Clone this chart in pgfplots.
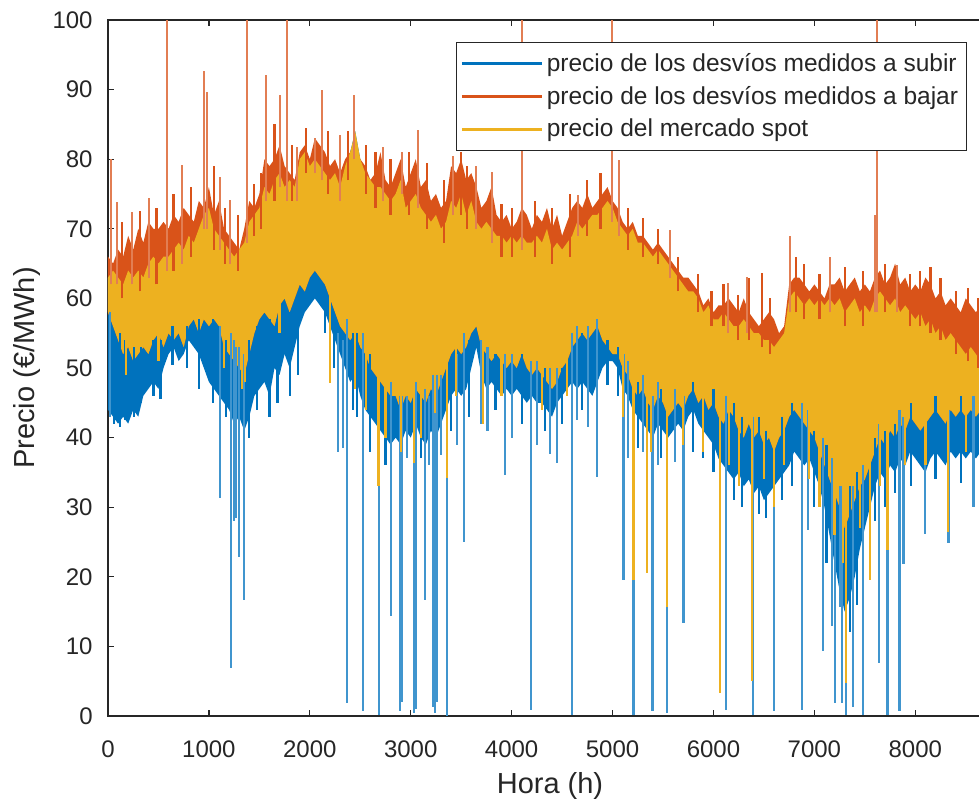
\documentclass[border=0pt]{standalone}
\usepackage{pgfplots}
\pgfplotsset{compat=1.18}
\usepackage{pgfplotstable}
\usepgfplotslibrary{fillbetween}
\usepackage{fontspec}
\setmainfont{Liberation Sans}

\definecolor{mblue}{HTML}{0072BD}
\definecolor{mred}{HTML}{D95319}
\definecolor{myellow}{HTML}{EDB120}
\definecolor{axgray}{HTML}{262626}

% hourly prices summarised every 50 h:
% rhi = upper edge of the "a bajar" series, yhi/ylo = range of the spot price,
% blo = lower edge of the "a subir" series
\pgfplotstableread{
h rhi yhi ylo blo
0 66 63 58 44
50 65 64 56 43
100 67 63 54 42
150 66 62 52 43
200 69 64 53 42
250 67 63 51 44
300 70 64 52 43
350 68 63 53 46
400 71 65 52 47
450 70 66 54 48
500 70 65 55 47
550 71 66 53 50
600 70 66 55 52
650 72 67 54 53
700 71 68 55 51
750 73 67 53 52
800 72 69 56 54
850 71 68 57 53
900 74 70 55 52
950 73 72 57 50
1000 76 73 56 48
1050 72 70 57 47
1100 74 69 56 46
1150 70 68 53 45
1200 69 67 52 44
1250 68 66 51 42
1300 67 67 50 43
1350 70 68 49 41
1400 74 71 52 43
1450 73 72 55 46
1500 75 73 57 47
1550 80 76 58 48
1600 79 75 57 46
1650 80 77 56 50
1700 82 78 59 49
1750 79 76 60 52
1800 78 77 58 50
1850 77 76 60 53
1900 81 80 62 56
1950 82 81 61 58
2000 80 79 63 59
2050 83 80 64 60
2100 82 79 63 59
2150 81 78 62 58
2200 79 77 60 56
2250 80 78 58 54
2300 78 76 56 52
2350 80 79 55 50
2400 81 81 54 48
2450 83 84 55 49
2500 80 80 53 46
2550 79 78 52 44
2600 77 77 50 43
2650 78 76 49 42
2700 81 76 48 41
2750 77 75 47 40
2800 76 74 46 39
2850 78 75 46 40
2900 80 77 44 39
2950 76 73 46 41
3000 78 74 45 40
3050 80 75 47 42
3100 76 73 46 40
3150 77 72 45 39
3200 74 71 47 41
3250 75 72 46 40
3300 73 70 48 42
3350 74 71 50 44
3400 79 74 52 46
3450 78 73 53 47
3500 80 75 52 46
3550 77 72 53 47
3600 78 74 55 50
3650 76 71 56 53
3700 73 70 53 49
3750 74 71 52 47
3800 76 70 51 48
3850 72 69 52 47
3900 71 69 51 46
3950 72 68 50 47
4000 70 69 51 46
4050 71 68 50 47
4100 73 69 52 46
4150 72 68 50 45
4200 70 68 49 46
4250 72 69 50 45
4300 71 68 49 45
4350 73 70 48 44
4400 70 67 47 43
4450 72 68 48 45
4500 69 67 50 46
4550 71 68 51 47
4600 73 69 53 48
4650 74 71 54 47
4700 73 70 55 48
4750 75 71 54 47
4800 73 72 55 46
4850 74 72 56 48
4900 75 73 54 50
4950 76 74 53 51
5000 74 73 52 51
5050 73 71 52 50
5100 71 70 50 47
5150 70 69 49 46
5200 71 70 47 44
5250 69 68 46 43
5300 69 68 47 42
5350 68 67 45 41
5400 67 66 44 40
5450 68 67 46 42
5500 67 66 45 41
5550 66 65 43 40
5600 65 64 44 41
5650 64 63 45 42
5700 63 62 44 41
5750 63 61 46 43
5800 62 61 47 44
5850 61 60 45 42
5900 59 58 46 41
5950 60 59 44 40
6000 58 57 45 39
6050 59 57 43 37
6100 59 58 42 36
6150 60 57 44 35
6200 59 56 43 34
6250 58 56 41 35
6300 60 57 40 33
6350 58 56 42 34
6400 57 55 40 32
6450 56 55 41 33
6500 57 54 39 31
6550 58 54 40 32
6600 57 53 38 33
6650 55 54 40 34
6700 56 55 41 35
6750 62 60 43 36
6800 63 61 44 38
6850 63 60 43 37
6900 62 59 42 36
6950 61 60 41 37
7000 62 59 40 35
7050 61 60 38 33
7100 60 59 36 30
7150 62 60 34 26
7200 62 59 32 22
7250 63 60 30 18
7300 61 58 27 15
7350 62 59 29 17
7400 63 60 31 20
7450 61 58 33 24
7500 62 59 34 27
7550 61 58 36 30
7600 63 60 38 33
7650 64 61 40 35
7700 62 60 39 34
7750 63 59 41 36
7800 65 60 40 35
7850 62 58 42 37
7900 63 59 41 36
7950 61 58 43 38
8000 62 57 42 37
8050 61 58 41 36
8100 63 56 42 35
8150 62 57 43 37
8200 60 55 44 38
8250 61 56 43 37
8300 59 54 42 36
8350 60 55 44 38
8400 59 54 43 37
8450 58 53 44 38
8500 60 52 43 37
8550 59 53 44 38
8600 58 52 43 37
8650 59 51 44 38
8700 58 52 43 37
8750 58 51 44 38
}\bands

\begin{document}
\begin{tikzpicture}
\begin{axis}[
  scale only axis,
  width=442pt, height=348pt,
  xmin=0, xmax=8760, ymin=0, ymax=100,
  xtick={0,1000,...,8000},
  ytick={0,10,...,100},
  tick align=inside,
  major tick length=3pt,
  axis line style={axgray, line width=0.6pt},
  every tick/.style={axgray, line width=0.6pt},
  /pgf/number format/assume math mode=true,
  /pgf/number format/1000 sep={},
  tick label style={font=\fontsize{12}{14}\selectfont, text=axgray, inner sep=0pt},
  xticklabel style={yshift=-12pt},
  yticklabel style={xshift=-7.5pt},
  xlabel={Hora (h)},
  ylabel={Precio (€/MWh)},
  label style={font=\fontsize{14.5}{17}\selectfont, text=axgray, inner sep=0pt},
  xlabel style={at={(rel axis cs:0.5,-0.1207)}, anchor=south},
  ylabel style={at={(rel axis cs:-0.0758,0.5)}, anchor=south, rotate=0},
  unbounded coords=jump,
  legend cell align=left,
  legend image code/.code={\draw[#1, line width=1.1pt] (0pt,0pt) -- (40pt,0pt);},
  legend style={
    at={(0.9717,0.9684)}, anchor=north east,
    draw=axgray, line width=0.6pt, fill=white,
    font=\fontsize{12.25}{14}\selectfont, text=axgray,
    inner xsep=2.25pt, inner ysep=2.2pt, row sep=0pt,
    nodes={inner xsep=1.9pt, inner ysep=3pt},
  },
]
\coordinate (O) at (rel axis cs:0,0);
\coordinate (T) at (rel axis cs:0,1);

% envelopes
\addplot[name path=rtop, draw=none, forget plot] table[x=h, y=rhi] {\bands};
\addplot[name path=ytop, draw=none, forget plot] table[x=h, y=yhi] {\bands};
\addplot[name path=ybot, draw=none, forget plot] table[x=h, y=ylo] {\bands};
\addplot[name path=bbot, draw=none, forget plot] table[x=h, y=blo] {\bands};

% precio de los desvios medidos a subir
\addplot[fill=mblue, draw=none, forget plot] fill between[of=ytop and bbot];
\addplot[mblue!75, line width=1.1pt, forget plot] coordinates {
(20,58) (20,43) (20,nan)
(1110,56) (1110,31.3) (1110,nan)
(1219,55) (1219,6.9) (1219,nan)
(1245,54) (1245,28) (1245,nan)
(1270,53) (1270,28.5) (1270,nan)
(1300,53) (1300,22.9) (1300,nan)
(1345,52) (1345,16.7) (1345,nan)
(2280,55) (2280,38) (2280,nan)
(2330,54) (2330,38.5) (2330,nan)
(2372,57) (2372,1.9) (2372,nan)
(2524,55) (2524,0.7) (2524,nan)
(2689,51) (2689,0.2) (2689,nan)
(2804,48) (2804,14.3) (2804,nan)
(2890,46) (2890,0.7) (2890,nan)
(2910,46) (2910,2) (2910,nan)
(2960,46) (2960,37) (2960,nan)
(3030,47) (3030,0.4) (3030,nan)
(3050,48) (3050,1) (3050,nan)
(3141,47) (3141,16.7) (3141,nan)
(3180,46) (3180,36) (3180,nan)
(3224,49) (3224,1.3) (3224,nan)
(3240,49) (3240,0.5) (3240,nan)
(3257,49) (3257,2) (3257,nan)
(3300,49) (3300,37.5) (3300,nan)
(3356,52) (3356,0) (3356,nan)
(3460,52) (3460,39) (3460,nan)
(3528,55) (3528,25) (3528,nan)
(3700,54) (3700,42) (3700,nan)
(3760,53) (3760,41) (3760,nan)
(3934,52) (3934,34.6) (3934,nan)
(4000,52) (4000,40) (4000,nan)
(4192,51) (4192,0.9) (4192,nan)
(4250,51) (4250,39) (4250,nan)
(4380,50) (4380,37.7) (4380,nan)
(4446,50) (4446,36.3) (4446,nan)
(4596,55) (4596,0.2) (4596,nan)
(4650,56) (4650,42.5) (4650,nan)
(4760,56) (4760,41.5) (4760,nan)
(4844,57) (4844,34.4) (4844,nan)
(5108,52) (5108,19.5) (5108,nan)
(5150,51) (5150,37) (5150,nan)
(5207,49) (5207,0.2) (5207,nan)
(5300,49) (5300,38) (5300,nan)
(5396,46) (5396,0.7) (5396,nan)
(5450,48) (5450,36) (5450,nan)
(5536,45) (5536,0.4) (5536,nan)
(5620,47) (5620,36.5) (5620,nan)
(5702,46) (5702,13.3) (5702,nan)
(6125,46) (6125,0.9) (6125,nan)
(6389,43) (6389,0.2) (6389,nan)
(6600,41) (6600,0.7) (6600,nan)
(6874,45) (6874,0.9) (6874,nan)
(6940,44) (6940,26.7) (6940,nan)
(7083,40) (7083,9.3) (7083,nan)
(7172,37) (7172,12.9) (7172,nan)
(7205,35) (7205,1.8) (7205,nan)
(7255,33) (7255,15.7) (7255,nan)
(7271,33) (7271,1.8) (7271,nan)
(7314,30) (7314,0.2) (7314,nan)
(7386,33) (7386,1.3) (7386,nan)
(7478,36) (7478,0.2) (7478,nan)
(7551,38) (7551,19.5) (7551,nan)
(7644,42) (7644,7.6) (7644,nan)
(7724,43) (7724,0.2) (7724,nan)
(7843,44) (7843,0.7) (7843,nan)
(7883,43) (7883,21.9) (7883,nan)
(8098,44) (8098,26.2) (8098,nan)
(8329,44) (8329,24.8) (8329,nan)
(8577,46) (8577,30.1) (8577,nan)
};
% shorter excursions of the same series
\addplot[mblue, line width=1.1pt, forget plot] coordinates {
(60,55) (60,42) (60,nan)
(120,55) (120,41.5) (120,nan)
(170,54) (170,42.5) (170,nan)
(260,53) (260,43) (260,nan)
(330,53) (330,45) (330,nan)
(450,54) (450,46) (450,nan)
(520,54) (520,45.5) (520,nan)
(640,56) (640,50.5) (640,nan)
(780,56) (780,50) (780,nan)
(900,57) (900,47) (900,nan)
(1040,57) (1040,45) (1040,nan)
(1170,54) (1170,43) (1170,nan)
(1400,54) (1400,40) (1400,nan)
(1480,56) (1480,44) (1480,nan)
(1600,57) (1600,43) (1600,nan)
(1680,57) (1680,45) (1680,nan)
(1800,58) (1800,46) (1800,nan)
(1880,60) (1880,49) (1880,nan)
(2150,60) (2150,55) (2150,nan)
(2240,58) (2240,50) (2240,nan)
(2430,55) (2430,44) (2430,nan)
(2470,55) (2470,43) (2470,nan)
(2600,52) (2600,38) (2600,nan)
(2750,48) (2750,36) (2750,nan)
(3100,47) (3100,37) (3100,nan)
(3400,51) (3400,41) (3400,nan)
(3580,54) (3580,43) (3580,nan)
(3840,52) (3840,44) (3840,nan)
(4100,52) (4100,42) (4100,nan)
(4330,50) (4330,41) (4330,nan)
(4500,50) (4500,42) (4500,nan)
(4700,55) (4700,44) (4700,nan)
(4950,54) (4950,47.5) (4950,nan)
(5050,53) (5050,46) (5050,nan)
(5250,48) (5250,38.5) (5250,nan)
(5480,47) (5480,37) (5480,nan)
(5800,48) (5800,38) (5800,nan)
(5900,47) (5900,37) (5900,nan)
(6000,47) (6000,35) (6000,nan)
(6200,45) (6200,31) (6200,nan)
(6280,43) (6280,30) (6280,nan)
(6450,43) (6450,29) (6450,nan)
(6520,41) (6520,28.5) (6520,nan)
(6680,43) (6680,31) (6680,nan)
(6780,45) (6780,33) (6780,nan)
(7000,41) (7000,30) (7000,nan)
(7120,39) (7120,22) (7120,nan)
(7350,33) (7350,12) (7350,nan)
(7420,35) (7420,16) (7420,nan)
(7600,40) (7600,28) (7600,nan)
(7700,41) (7700,30) (7700,nan)
(7800,42) (7800,32) (7800,nan)
(7960,45) (7960,33) (7960,nan)
(8200,46) (8200,34) (8200,nan)
(8450,46) (8450,33.5) (8450,nan)
(8650,46) (8650,34) (8650,nan)
};

% precio de los desvios medidos a bajar
\addplot[fill=mred, draw=none, forget plot] fill between[of=rtop and ybot];
\addplot[mred!75, line width=1.1pt, forget plot] coordinates {
(30,62) (30,80) (30,nan)
(86,62) (86,73.9) (86,nan)
(235,62) (235,72.4) (235,nan)
(410,63) (410,74.4) (410,nan)
(584,64) (584,100) (584,nan)
(730,65) (730,79.2) (730,nan)
(951,70) (951,92.6) (951,nan)
(984,70) (984,89.7) (984,nan)
(1110,67) (1110,77.5) (1110,nan)
(1209,65) (1209,74.2) (1209,nan)
(1381,68) (1381,100) (1381,nan)
(1563,74) (1563,92.1) (1563,nan)
(1705,76) (1705,89.2) (1705,nan)
(1771,74) (1771,100) (1771,nan)
(1870,74) (1870,81.8) (1870,nan)
(2051,78) (2051,83) (2051,nan)
(2118,77) (2118,90) (2118,nan)
(2299,74) (2299,83.5) (2299,nan)
(2438,80) (2438,89.2) (2438,nan)
(2726,74) (2726,81.8) (2726,nan)
(2910,75) (2910,81.1) (2910,nan)
(3075,73) (3075,84.2) (3075,nan)
(3420,72) (3420,80.4) (3420,nan)
(3644,70) (3644,79) (3644,nan)
(3802,68) (3802,78.2) (3802,nan)
(4106,67) (4106,100) (4106,nan)
(4661,69) (4661,74.9) (4661,nan)
(4992,71) (4992,100) (4992,nan)
(5067,69) (5067,79.9) (5067,nan)
(5570,63) (5570,69.8) (5570,nan)
(6147,55) (6147,62.2) (6147,nan)
(6329,55) (6329,63.1) (6329,nan)
(6759,58) (6759,68.9) (6759,nan)
(7155,58) (7155,66) (7155,nan)
(7605,58) (7605,72) (7605,nan)
(7617,58) (7617,100) (7617,nan)
(7815,58) (7815,64.8) (7815,nan)
};
\addplot[mred, line width=1.1pt, forget plot] coordinates {
(140,60) (140,71) (140,nan)
(320,61) (320,72.5) (320,nan)
(480,62) (480,73) (480,nan)
(650,64) (650,75) (650,nan)
(820,66) (820,76) (820,nan)
(1050,67) (1050,79) (1050,nan)
(1160,65) (1160,73) (1160,nan)
(1290,64) (1290,72) (1290,nan)
(1450,69) (1450,76.5) (1450,nan)
(1520,70) (1520,78) (1520,nan)
(1650,74) (1650,85) (1650,nan)
(1820,74) (1820,82) (1820,nan)
(1960,78) (1960,84.5) (1960,nan)
(2180,75) (2180,84) (2180,nan)
(2380,77) (2380,84) (2380,nan)
(2560,75) (2560,82) (2560,nan)
(2650,73) (2650,81) (2650,nan)
(2800,72) (2800,80) (2800,nan)
(2980,72) (2980,81) (2980,nan)
(3160,70) (3160,79.5) (3160,nan)
(3330,68) (3330,77) (3330,nan)
(3500,72) (3500,81) (3500,nan)
(3560,70) (3560,79) (3560,nan)
(3900,66) (3900,73.5) (3900,nan)
(4000,66) (4000,73) (4000,nan)
(4230,66) (4230,74) (4230,nan)
(4400,65) (4400,73) (4400,nan)
(4580,66) (4580,75) (4580,nan)
(4750,69) (4750,77) (4750,nan)
(4880,70) (4880,78) (4880,nan)
(5150,67) (5150,73) (5150,nan)
(5300,66) (5300,71.5) (5300,nan)
(5450,65) (5450,70) (5450,nan)
(5650,61) (5650,66) (5650,nan)
(5850,58) (5850,63.5) (5850,nan)
(5980,56) (5980,61) (5980,nan)
(6100,56) (6100,62) (6100,nan)
(6240,54) (6240,60.5) (6240,nan)
(6350,54) (6350,63) (6350,nan)
(6480,53) (6480,63.6) (6480,nan)
(6560,52) (6560,60) (6560,nan)
(6820,58) (6820,66) (6820,nan)
(6900,57) (6900,65) (6900,nan)
(7050,57) (7050,63.5) (7050,nan)
(7300,56) (7300,64.5) (7300,nan)
(7480,56) (7480,64) (7480,nan)
(7700,58) (7700,65) (7700,nan)
(7950,56) (7950,63.5) (7950,nan)
(8050,56) (8050,64) (8050,nan)
(8150,55) (8150,64.5) (8150,nan)
(8250,54) (8250,63) (8250,nan)
(8400,52) (8400,61) (8400,nan)
(8520,51) (8520,61.5) (8520,nan)
(8620,50) (8620,60) (8620,nan)
};

% precio del mercado spot
\addplot[fill=myellow, draw=none, forget plot] fill between[of=ytop and ybot];
\addplot[myellow, line width=1.1pt, forget plot] coordinates {
(180,57) (180,49) (180,nan)
(500,60) (500,51) (500,nan)
(1150,58) (1150,50) (1150,nan)
(1330,55) (1330,47) (1330,nan)
(1360,55) (1360,48) (1360,nan)
(1700,63) (1700,55) (1700,nan)
(2200,62) (2200,47.8) (2200,nan)
(2450,58) (2450,47) (2450,nan)
(2560,56) (2560,44) (2560,nan)
(2680,55) (2680,33) (2680,nan)
(2750,51) (2750,40) (2750,nan)
(2900,50) (2900,38) (2900,nan)
(3030,52) (3030,36.3) (3030,nan)
(3100,50) (3100,40) (3100,nan)
(3240,52) (3240,43.5) (3240,nan)
(3356,55) (3356,34.2) (3356,nan)
(3450,57) (3450,46) (3450,nan)
(3719,58) (3719,42) (3719,nan)
(3900,56) (3900,46) (3900,nan)
(4300,54) (4300,44) (4300,nan)
(4550,56) (4550,46) (4550,nan)
(5100,55) (5100,43) (5100,nan)
(5207,55) (5207,19.5) (5207,nan)
(5340,55) (5340,20.5) (5340,nan)
(5380,50) (5380,38) (5380,nan)
(5536,52) (5536,15.7) (5536,nan)
(5700,49) (5700,39) (5700,nan)
(5900,50) (5900,38) (5900,nan)
(6065,48) (6065,3.3) (6065,nan)
(6150,48) (6150,36) (6150,nan)
(6250,46) (6250,33) (6250,nan)
(6380,46) (6380,5) (6380,nan)
(6500,44) (6500,34) (6500,nan)
(6600,45) (6600,30) (6600,nan)
(6700,46) (6700,36) (6700,nan)
(6950,45) (6950,34) (6950,nan)
(7050,43) (7050,30) (7050,nan)
(7200,40) (7200,26) (7200,nan)
(7280,38) (7280,22) (7280,nan)
(7314,40) (7314,4.7) (7314,nan)
(7450,38) (7450,27) (7450,nan)
(7551,45) (7551,19.5) (7551,nan)
(7650,44) (7650,33) (7650,nan)
(7724,45) (7724,23.9) (7724,nan)
(7900,46) (7900,36) (7900,nan)
(8100,47) (8100,36) (8100,nan)
(8320,48) (8320,26.5) (8320,nan)
(8500,48) (8500,38) (8500,nan)
};

\addlegendimage{mblue}
\addlegendentry{precio de los desvíos medidos a subir}
\addlegendimage{mred}
\addlegendentry{precio de los desvíos medidos a bajar}
\addlegendimage{myellow}
\addlegendentry{precio del mercado spot}
\end{axis}
\pgfresetboundingbox
\path[use as bounding box] ([shift={(-54pt,-43.5pt)}]O) rectangle ([shift={(435.5pt,10pt)}]T);
\end{tikzpicture}
\end{document}
